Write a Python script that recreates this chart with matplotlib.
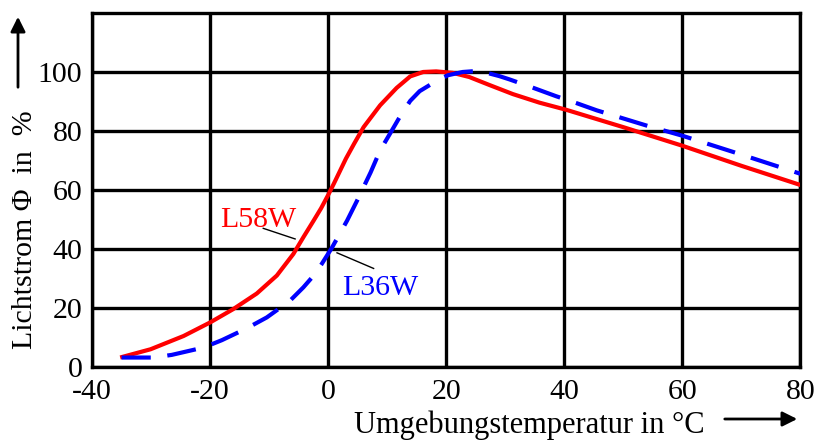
import matplotlib
matplotlib.use("Agg")
import matplotlib.pyplot as plt

# Lichtstrom vs. Umgebungstemperatur
temp_l58 = [-34.9, -30.1, -24.5, -20, -16.1, -12.1, -8.7, -5.9, -4.2, -2.5, -1.2, 0,
            1.0, 3.0, 4.4, 6.0, 8.8, 11.6, 13.9, 16.1, 18.3, 21.1, 23.9, 27.3,
            31.3, 35.8, 40.3, 50, 60, 70, 80]
flux_l58 = [3.4, 6.0, 10.5, 15.1, 19.6, 24.9, 31.0, 38.3, 44, 49.5, 53.8, 58.3,
            62.3, 70.6, 75.7, 81.3, 88.7, 94.6, 98.5, 100, 100.2, 99.7, 98.3, 95.6,
            92.5, 89.6, 87.2, 81.3, 75, 68.2, 61.7]

temp_l36 = [-35, -29.6, -26.5, -21.1, -18, -13.8, -10.4, -6.5, -4.2, -2.5, -1.1, 0.6,
            3.2, 4.9, 7.2, 8.8, 10.8, 12.2, 13.9, 15.5, 17.8, 20.3, 22.8, 25.6,
            29, 30.7, 34.1, 38.6, 42, 45.5, 54, 60, 69.7, 80]
flux_l36 = [3.2, 3.2, 4.1, 6.6, 9.1, 13.1, 16.8, 22.4, 27, 30.9, 34.9, 40.3,
            49.6, 56.4, 66, 73.4, 80.2, 85, 90.2, 93.5, 96.3, 98.9, 100, 100.4,
            98.6, 97.5, 95.1, 91.8, 89.5, 87, 81.8, 78.4, 72.2, 65.5]

xticks = [-40, -20, 0, 20, 40, 60, 80]
yticks = [0, 20, 40, 60, 80, 100]

plt.rcParams['font.family'] = ['Liberation Serif', 'DejaVu Serif']
plt.rcParams['axes.unicode_minus'] = False

fig = plt.figure(figsize=(8.15, 4.43), dpi=100)
ax = fig.add_axes([0.113, 0.1716, 0.869, 0.7991])

ax.plot(temp_l58, flux_l58, color='#ff0000', lw=3.0, solid_joinstyle='round', zorder=3)
ax.plot(temp_l36, flux_l36, color='#0000ff', lw=3.0, dashes=(7, 4), zorder=3)

ax.set_xlim(-40, 80)
ax.set_ylim(0, 120)
ax.set_xticks(xticks)
ax.set_yticks(yticks)
ax.set_xticklabels([str(v) for v in xticks])
ax.set_yticklabels([str(v) for v in yticks])
ax.tick_params(length=0, labelsize=21.5, pad=7)
ax.tick_params(axis='x', pad=9)
ax.grid(True, color='black', lw=2.4)
ax.set_axisbelow(True)
for s in ax.spines.values():
    s.set_linewidth(2.4)

# curve labels with pointer lines
ax.text(-18.3, 47.6, 'L58W', color='#ff0000', fontsize=21.5, va='baseline')
ax.plot([-11.0, -5.6], [47.0, 43.4], color='black', lw=1.0, zorder=4)
ax.text(2.3, 24.4, 'L36W', color='#0000ff', fontsize=21.5, va='baseline')
ax.plot([1.5, 7.7], [38.7, 33.4], color='black', lw=1.0, zorder=4)

# axis titles with arrows
fig.text(529 / 815, 1 - 433 / 443, 'Umgebungstemperatur in °C', fontsize=22,
         ha='center', va='baseline')
fig.add_artist(matplotlib.patches.FancyArrowPatch(
    (722 / 815, 1 - 419 / 443), (800 / 815, 1 - 419 / 443),
    transform=fig.transFigure, arrowstyle='-|>', mutation_scale=22, lw=2, color='black'))

fig.text(25 / 815, 1 - 230 / 443, 'Lichtstrom Φ  in  %', fontsize=21.5,
         rotation=90, ha='center', va='center')
fig.add_artist(matplotlib.patches.FancyArrowPatch(
    (18 / 815, 1 - 90 / 443), (18 / 815, 1 - 14 / 443),
    transform=fig.transFigure, arrowstyle='-|>', mutation_scale=22, lw=2, color='black'))

fig.savefig('out.png', dpi=100)
